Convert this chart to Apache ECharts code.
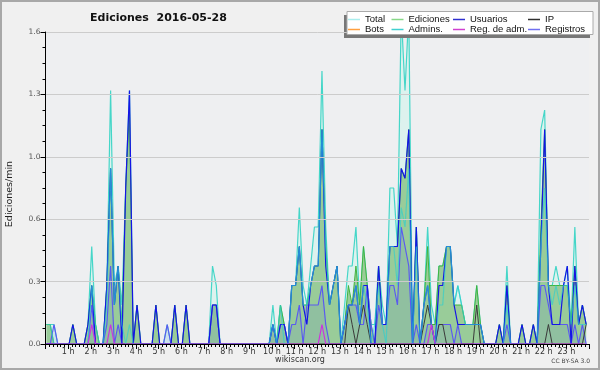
<!DOCTYPE html>
<html>
<head>
<meta charset="utf-8">
<script src="https://cdn.jsdelivr.net/npm/echarts@6/dist/echarts.min.js"></script>
<style>
  body { margin: 0; background: #f0f0f0; }
  #chart { width: 600px; height: 370px; }
</style>
</head>
<body>
<div id="chart"></div>
<script>
// 10-minute slots, one row per hour
const slotMinutes = Array.from({ length: 144 }, (_, i) => i * 10)

const total = [
  .1,.1,.1,0,0,0,   0,.1,0,0,0,.1,    .5,.1,0,0,.3,1.3,  .3,.4,.2,.8,1.3,0,
  .2,0,0,0,0,.2,    0,0,.1,0,.2,0,    0,.2,0,0,0,0,      0,0,.4,.3,0,0,
  0,0,0,0,0,0,      0,0,0,0,0,0,      .2,0,.2,.1,0,.3,   .3,.7,.3,.2,.4,.6,
  .6,1.4,.6,.2,.3,.4, 0,.2,.4,.4,.6,.2, .5,.3,.1,.1,.4,.2, .1,.8,.8,.5,1.7,1.3,
  1.7,0,.6,0,.2,.6, .2,.1,.4,.4,.5,.5, .2,.3,.2,.1,.1,.1,  .3,.1,0,0,0,0,
  .1,0,.4,0,0,0,    .1,0,0,.1,0,1.1,  1.2,.3,.3,.4,.3,.3, .4,.1,.6,.1,.2,.1,
]
const ediciones = [
  .1,.1,0,0,0,0,    0,.1,0,0,0,.1,    .3,.1,0,0,.3,.9,   .2,.4,.1,.8,1.2,0,
  .2,0,0,0,0,.2,    0,0,0,0,.2,0,     0,.2,0,0,0,0,      0,0,.2,.2,0,0,
  0,0,0,0,0,0,      0,0,0,0,0,0,      .1,0,.2,.1,0,.3,   .3,.5,.2,.2,.3,.4,
  .4,1.1,.5,.2,.3,.4, 0,.1,.3,.2,.4,.2, .5,.3,.1,0,.4,.1, .1,.5,.5,.5,.9,.85,
  1.1,0,.6,0,.2,.5, .1,.1,.4,.4,.5,.5, .2,.2,.2,.1,.1,.1,  .3,.1,0,0,0,0,
  .1,0,.3,0,0,0,    .1,0,0,.1,0,.6,   1.1,.3,.3,.3,.3,.3, .3,.1,.4,.1,.2,.1,
]
const usuarios = [
  0,0,0,0,0,0,      0,.1,0,0,0,.1,    .3,0,0,0,.3,.9,    .2,.4,0,.8,1.3,0,
  .2,0,0,0,0,.2,    0,0,0,0,.2,0,     0,.2,0,0,0,0,      0,0,.2,.2,0,0,
  0,0,0,0,0,0,      0,0,0,0,0,0,      .1,0,.1,.1,0,.3,   .3,.5,.2,.1,.3,.4,
  .4,1.1,.4,.2,.3,.4, 0,.1,.2,.2,.3,.1, .3,.3,0,0,.4,.1, .1,.5,.5,.5,.9,.85,
  1.1,0,.6,0,.2,.3, .1,0,.3,.3,.5,.5, .2,.1,.1,.1,.1,.1,   .1,.1,0,0,0,0,
  .1,0,.3,0,0,0,    .1,0,0,.1,0,.5,   1.1,.3,.1,.1,.1,.3, .4,0,.4,.1,.2,.1,
]
const ip = [
  0,0,0,0,0,0,      0,0,0,0,0,0,      0,0,0,0,0,0,       0,0,0,0,0,0,
  0,0,0,0,0,0,      0,0,0,0,0,0,      0,0,0,0,0,0,       0,0,0,0,0,0,
  0,0,0,0,0,0,      0,0,0,0,0,0,      0,0,0,0,0,0,       0,0,0,0,0,0,
  0,0,0,0,0,0,      0,0,.2,.1,0,.1,   .2,.1,0,0,0,0,     0,0,0,0,0,0,
  0,0,0,0,.1,.2,    .1,0,.1,.1,0,0,   0,0,0,0,0,0,       .2,0,0,0,0,0,
  0,0,0,0,0,0,      0,0,0,0,0,0,      0,.1,0,0,0,0,      0,0,0,0,0,.1,
]
const bots = slotMinutes.map(() => 0)
const admins = [
  .1,.1,0,0,0,0,    0,0,0,0,0,0,      .3,.1,0,0,.2,.9,   .2,.4,.1,0,.1,0,
  0,0,0,0,0,0,      0,0,0,0,0,0,      0,0,0,0,0,0,       0,0,0,0,0,0,
  0,0,0,0,0,0,      0,0,0,0,0,0,      .1,0,.2,0,0,.3,    .3,.5,.2,.2,.3,.4,
  .4,1.1,.5,.2,.3,.4, 0,.1,.2,.2,.3,.1, .3,.2,0,.1,.3,.1, 0,.5,.5,.3,.7,.6,
  .9,0,.5,0,.2,.3,  .1,0,.2,.2,.5,.5, .2,.3,.2,.1,.1,.1,   .1,.1,0,0,0,0,
  0,0,.2,0,0,0,     0,0,0,0,0,.5,     .8,.3,.2,.3,.2,.3, .3,.1,.3,.1,.1,.1,
]
const regAdm = [
  0,0,0,0,0,0,      0,0,0,0,0,0,      .1,0,0,0,0,.1,     0,0,0,0,0,0,
  0,0,0,0,0,0,      0,0,0,0,0,0,      0,0,0,0,0,0,       0,0,0,0,0,0,
  0,0,0,0,0,0,      0,0,0,0,0,0,      0,0,0,0,0,0,       0,0,0,0,0,0,
  0,.1,0,0,0,0,     0,0,0,0,0,0,      0,0,0,0,0,0,       0,0,0,0,0,0,
  0,0,0,0,0,0,      .1,0,0,0,0,0,     0,0,0,0,0,0,       0,0,0,0,0,0,
  0,0,0,0,0,0,      0,0,0,0,0,0,      0,0,0,0,0,0,       0,0,0,0,0,0,
]
const registros = [
  0,0,.1,0,0,0,     0,0,0,0,0,0,      .2,0,0,0,.1,.4,    0,.1,0,0,0,0,
  0,0,0,0,0,0,      0,0,.1,0,0,0,     0,0,0,0,0,0,       0,0,.2,.2,0,0,
  0,0,0,0,0,0,      0,0,0,0,0,0,      .1,0,.1,.1,0,.1,   .1,.2,0,.2,.2,.2,
  .2,.3,.1,0,0,0,   0,.1,.2,.2,.2,.1, .1,.3,.1,0,.2,.1,  .1,.3,.3,.2,.6,.5,
  .4,0,.1,0,0,.1,   .1,0,.1,.1,.1,.1, 0,.1,0,0,0,0,      0,0,0,0,0,0,
  0,0,.1,0,0,0,     0,0,0,0,0,.3,     .3,.2,.1,.1,.1,.1, .1,0,.1,0,.1,0,
]

const yTicks = [0, 0.32, 0.64, 0.96, 1.28, 1.6]
const font = 'DejaVu Sans'

const pts = (vals) => vals.map((v, i) => [(slotMinutes[i] + 2.5) / 60, v])

function line(name, vals, color, extra) {
  return Object.assign({
    name,
    type: 'line',
    data: pts(vals),
    symbol: 'none',
    showSymbol: false,
    lineStyle: { color, width: 1.2 },
    itemStyle: { color },
    z: 2,
  }, extra)
}

const legendBase = {
  orient: 'vertical',
  top: 14.5,
  itemGap: 0,
  itemWidth: 12,
  itemHeight: 1.5,
  padding: 0,
  icon: 'rect',
  selectedMode: false,
  z: 12,
  textStyle: { fontFamily: 'Liberation Sans', fontSize: 9.5, lineHeight: 10, color: '#111' },
}
const legendItem = (name, color) => ({ name, itemStyle: { color } })

const chart = echarts.init(document.getElementById('chart'))
chart.setOption({
  backgroundColor: '#f0f0f0',
  animation: false,
  title: {
    text: 'Ediciones  2016-05-28',
    left: 85,
    top: 7.5,
    textStyle: { fontFamily: font, fontWeight: 'bold', fontSize: 11, color: '#111' },
  },
  grid: {
    left: 45.5, right: 11, top: 32, bottom: 26,
    show: true, backgroundColor: '#eeeff1', borderWidth: 0,
    containLabel: false, outerBoundsMode: 'none',
  },
  xAxis: {
    type: 'value',
    min: 0,
    max: 24,
    interval: 1,
    z: 10,
    axisLine: { show: true, onZero: false, lineStyle: { color: '#000', width: 1 } },
    axisTick: { show: true, length: 5, lineStyle: { color: '#000' } },
    minorTick: { show: true, splitNumber: 6, length: 3, lineStyle: { color: '#000' } },
    splitLine: { show: false },
    axisLabel: {
      margin: 4,
      fontFamily: font,
      fontSize: 8,
      color: '#333',
      formatter: (v) => (v > 0 && v < 24 ? v + ' h' : ''),
    },
  },
  yAxis: {
    type: 'value',
    min: 0,
    max: 1.6,
    interval: 0.32,
    z: 10,
    name: 'Ediciones/min',
    nameLocation: 'middle',
    nameGap: 31,
    nameTextStyle: { fontFamily: font, fontSize: 9.5, color: '#222', padding: [0, 0, 0, -12] },
    axisLine: { show: true, lineStyle: { color: '#000', width: 1 } },
    axisTick: { show: true, length: 5, lineStyle: { color: '#000' } },
    minorTick: { show: true, splitNumber: 4, length: 3, lineStyle: { color: '#000' } },
    splitLine: { show: true, lineStyle: { color: '#cccccc' } },
    axisLabel: {
      margin: 5,
      fontFamily: font,
      fontSize: 7.5,
      color: '#555',
      formatter: (v) => yTicks.some((t) => Math.abs(t - v) < 1e-6) ? v.toFixed(1) : '',
    },
  },
  legend: [
    Object.assign({}, legendBase, { left: 348, data: [legendItem('Total', '#aaeeee'), legendItem('Bots', '#ffa040')] }),
    Object.assign({}, legendBase, { left: 391.5, data: [legendItem('Ediciones', '#88d888'), legendItem('Admins.', '#40d0d0')] }),
    Object.assign({}, legendBase, { left: 453, data: [legendItem('Usuarios', '#3030d0'), legendItem('Reg. de adm.', '#d040d0')] }),
    Object.assign({}, legendBase, { left: 528, data: [legendItem('IP', '#303030'), legendItem('Registros', '#7070f0')] }),
  ],
  graphic: [
    { type: 'rect', z: 0, silent: true, shape: { x: 1, y: 1, width: 598, height: 368 },
      style: { fill: 'none', stroke: '#a8a8a8', lineWidth: 2 } },
    { type: 'rect', z: 10, silent: true, shape: { x: 344, y: 15, width: 246, height: 23 },
      style: { fill: '#777777' } },
    { type: 'rect', z: 11, silent: true, shape: { x: 347, y: 11.5, width: 246, height: 23 },
      style: { fill: '#ffffff', stroke: '#aaaaaa', lineWidth: 1 } },
    { type: 'text', z: 11, left: 'center', top: 356,
      style: { text: 'wikiscan.org', fontFamily: font, fontSize: 8, fill: '#333' } },
    { type: 'text', z: 11, right: 10, top: 358,
      style: { text: 'CC BY-SA 3.0', fontFamily: font, fontSize: 6, fill: '#444' } },
  ],
  series: [
    line('Total', total, '#45d6c8', { areaStyle: { color: '#ddf2ee', opacity: 1 }, z: 1 }),
    line('Ediciones', ediciones, '#3fb43f', { areaStyle: { color: '#99cc99', opacity: 1 }, lineStyle: { color: '#3fb43f', width: 1 } }),
    line('Registros', registros, '#5a5af0', { areaStyle: { color: 'rgba(60,80,220,0.14)' } }),
    line('IP', ip, '#3a3a3a', { lineStyle: { color: '#3a3a3a', width: 1 } }),
    line('Usuarios', usuarios, '#1414e6'),
    line('Admins.', admins, '#2ccfcf', { lineStyle: { color: '#2ccfcf', width: 1.2, opacity: 0.65 } }),
    line('Reg. de adm.', regAdm, '#cc33dd'),
    line('Bots', bots, '#ff9933', { z: 0 }),
  ],
})
</script>
</body>
</html>
